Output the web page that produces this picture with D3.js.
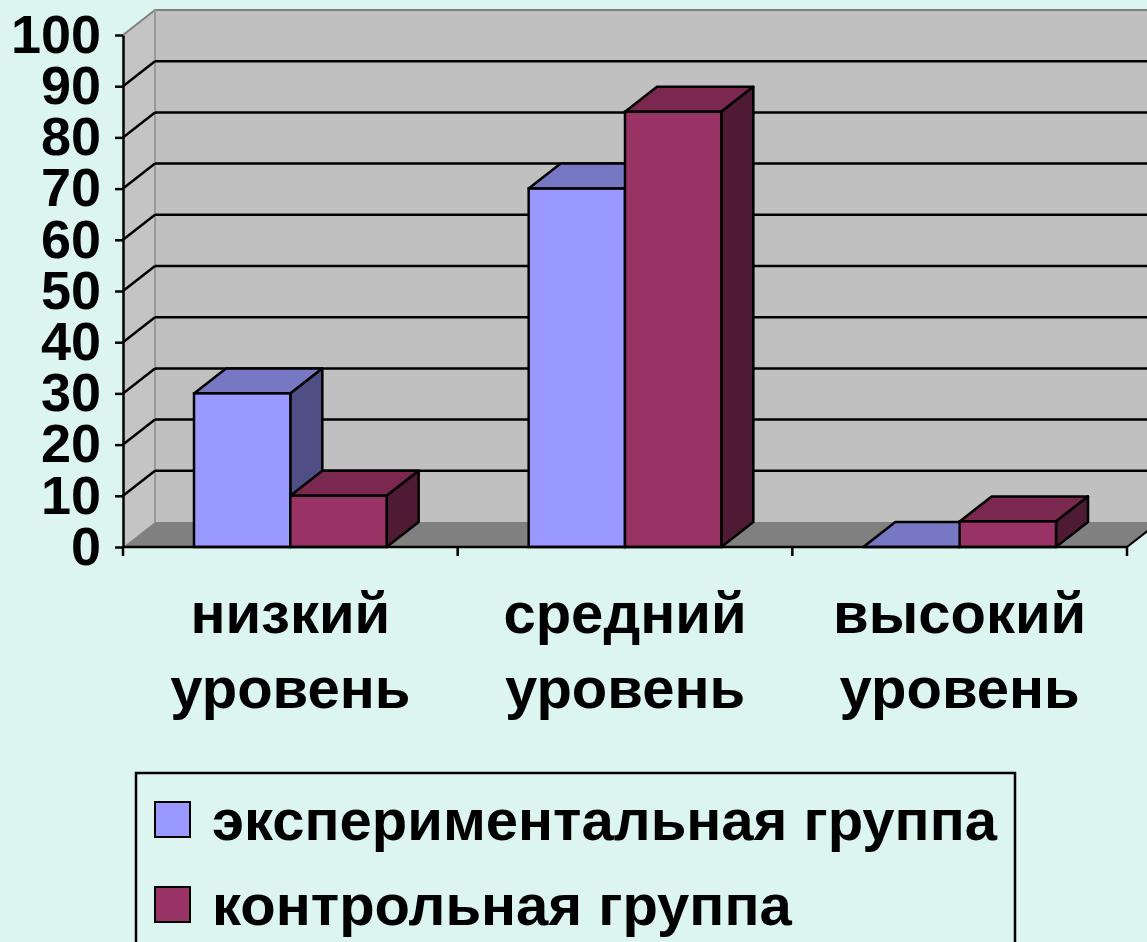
<!DOCTYPE html>
<html>
<head>
<meta charset="utf-8">
<script src="https://cdn.jsdelivr.net/npm/d3@7"></script>
<style>
  body { margin: 0; background: #dcf5f1; }
  text { font-family: "Liberation Sans", Arial, sans-serif; font-weight: bold; fill: #000; }
</style>
</head>
<body>
<div id="chart"></div>
<script>
// data
const categories = ["низкий уровень", "средний уровень", "высокий уровень"];
const seriesNames = ["экспериментальная группа", "контрольная группа"];
const experimental = [30, 70, 0];
const control = [10, 85, 5];
const yTicks = [0, 10, 20, 30, 40, 50, 60, 70, 80, 90, 100];

const width = 1147, height = 942;
const depth = { dx: 32, dy: -25 };

// colours per series: front, top, side
const colors = [
    { front: "#9999ff", top: "#7777c4", side: "#4f4f85" },
    { front: "#993366", top: "#7a284f", side: "#4f1a33" }
];

const svg = d3.select("#chart").append("svg")
    .attr("width", width)
    .attr("height", height);

const y = d3.scaleLinear().domain([0, 100]).range([547, 35]);
const x0 = d3.scaleBand().domain(categories).range([123, 1127]);
const x1 = d3.scaleBand().domain(seriesNames).range([71, x0.bandwidth() - 71]);

const left = x0.range()[0], right = x0.range()[1];
const y0 = y(0), yTop = y(100);

// walls and floor
svg.append("polygon")
    .attr("points", [[left + depth.dx, yTop + depth.dy], [width + 20, yTop + depth.dy], [width + 20, y0 + depth.dy], [left + depth.dx, y0 + depth.dy]].join(" "))
    .attr("fill", "#c0c0c0");
svg.append("polygon")
    .attr("points", [[left, yTop], [left + depth.dx, yTop + depth.dy], [left + depth.dx, y0 + depth.dy], [left, y0]].join(" "))
    .attr("fill", "#c4c4c4");
svg.append("polygon")
    .attr("points", [[left, y0], [right, y0], [right + depth.dx, y0 + depth.dy], [left + depth.dx, y0 + depth.dy]].join(" "))
    .attr("fill", "#808080");

// wall edges
svg.append("polyline")
    .attr("points", [[left, yTop], [left + depth.dx, yTop + depth.dy], [width + 20, yTop + depth.dy]].join(" "))
    .attr("fill", "none").attr("stroke", "#808080").attr("stroke-width", 2);
svg.append("line")
    .attr("x1", left + depth.dx).attr("x2", left + depth.dx)
    .attr("y1", yTop + depth.dy).attr("y2", y0 + depth.dy)
    .attr("stroke", "#999").attr("stroke-width", 2);

// gridlines
const grid = yTicks.filter(v => v > 0 && v < 100);
svg.selectAll("line.grid").data(grid).enter().append("line")
    .attr("class", "grid")
    .attr("x1", left + depth.dx).attr("x2", width + 20)
    .attr("y1", d => y(d) + depth.dy).attr("y2", d => y(d) + depth.dy)
    .attr("stroke", "#000").attr("stroke-width", 2.5);
svg.selectAll("line.gridside").data(grid).enter().append("line")
    .attr("class", "gridside")
    .attr("x1", left).attr("x2", left + depth.dx)
    .attr("y1", d => y(d)).attr("y2", d => y(d) + depth.dy)
    .attr("stroke", "#000").attr("stroke-width", 2.5);

// bars
const rows = [];
categories.forEach((c, i) => {
    rows.push({ cat: c, s: 0, value: experimental[i] });
    rows.push({ cat: c, s: 1, value: control[i] });
});

const bars = svg.selectAll("g.bar").data(rows).enter().append("g").attr("class", "bar");
const bx = d => x0(d.cat) + x1(seriesNames[d.s]);
const bw = x1.bandwidth();

bars.append("polygon")
    .attr("points", d => {
        const xa = bx(d), yv = y(d.value);
        return [[xa, yv], [xa + depth.dx, yv + depth.dy], [xa + bw + depth.dx, yv + depth.dy], [xa + bw, yv]].join(" ");
    })
    .attr("fill", d => colors[d.s].top)
    .attr("stroke", "#000").attr("stroke-width", 2.5).attr("stroke-linejoin", "round");
bars.append("polygon")
    .attr("points", d => {
        const xa = bx(d) + bw, yv = y(d.value);
        return [[xa, yv], [xa + depth.dx, yv + depth.dy], [xa + depth.dx, y0 + depth.dy], [xa, y0]].join(" ");
    })
    .attr("fill", d => colors[d.s].side)
    .attr("stroke", "#000").attr("stroke-width", 2.5).attr("stroke-linejoin", "round");
bars.append("rect")
    .attr("x", d => bx(d))
    .attr("y", d => y(d.value))
    .attr("width", bw)
    .attr("height", d => y0 - y(d.value))
    .attr("fill", d => colors[d.s].front)
    .attr("stroke", "#000").attr("stroke-width", 2.5);

// y axis
const yAxis = svg.append("g")
    .attr("transform", `translate(${left},0)`)
    .call(d3.axisLeft(y).tickValues(yTicks).tickSize(8).tickSizeOuter(0).tickPadding(14));
yAxis.select(".domain").attr("stroke", "#000").attr("stroke-width", 2.5);
yAxis.selectAll(".tick line").attr("stroke", "#000").attr("stroke-width", 2.5);
yAxis.selectAll(".tick text")
    .style("font-family", "'Liberation Sans', Arial, sans-serif")
    .style("font-weight", "bold")
    .style("font-size", "54px")
    .attr("fill", "#000");

// x axis
svg.append("line")
    .attr("x1", left).attr("x2", right)
    .attr("y1", y0).attr("y2", y0)
    .attr("stroke", "#000").attr("stroke-width", 2.5);
svg.append("line")
    .attr("x1", left).attr("x2", left)
    .attr("y1", y0).attr("y2", y0 + 9)
    .attr("stroke", "#000").attr("stroke-width", 2.5);
svg.selectAll("line.xtick").data(categories).enter().append("line")
    .attr("class", "xtick")
    .attr("x1", d => x0(d) + x0.bandwidth()).attr("x2", d => x0(d) + x0.bandwidth())
    .attr("y1", y0).attr("y2", y0 + 9)
    .attr("stroke", "#000").attr("stroke-width", 2.5);
svg.append("line")
    .attr("x1", right).attr("x2", right + depth.dx)
    .attr("y1", y0).attr("y2", y0 + depth.dy)
    .attr("stroke", "#000").attr("stroke-width", 2);

const catLabels = svg.selectAll("text.cat").data(categories).enter().append("text")
    .attr("class", "cat")
    .attr("text-anchor", "middle")
    .style("font-size", "58px");
catLabels.selectAll("tspan").data(d => d.split(" ").map(w => ({ w, c: d }))).enter().append("tspan")
    .attr("x", d => x0(d.c) + x0.bandwidth() / 2)
    .attr("y", (d, i) => 633 + i * 75)
    .text(d => d.w);

// legend
const legend = svg.append("g");
legend.append("rect")
    .attr("x", 136).attr("y", 773)
    .attr("width", 879).attr("height", 200)
    .attr("fill", "none").attr("stroke", "#000").attr("stroke-width", 2.5);
const items = legend.selectAll("g.item").data(seriesNames).enter().append("g")
    .attr("class", "item")
    .attr("transform", (d, i) => `translate(155,${802 + i * 85})`);
items.append("rect")
    .attr("width", 35).attr("height", 35)
    .attr("fill", (d, i) => colors[i].front)
    .attr("stroke", "#000").attr("stroke-width", 2);
items.append("text")
    .attr("x", 57).attr("y", 38)
    .style("font-size", "58px")
    .text(d => d);
</script>
</body>
</html>
